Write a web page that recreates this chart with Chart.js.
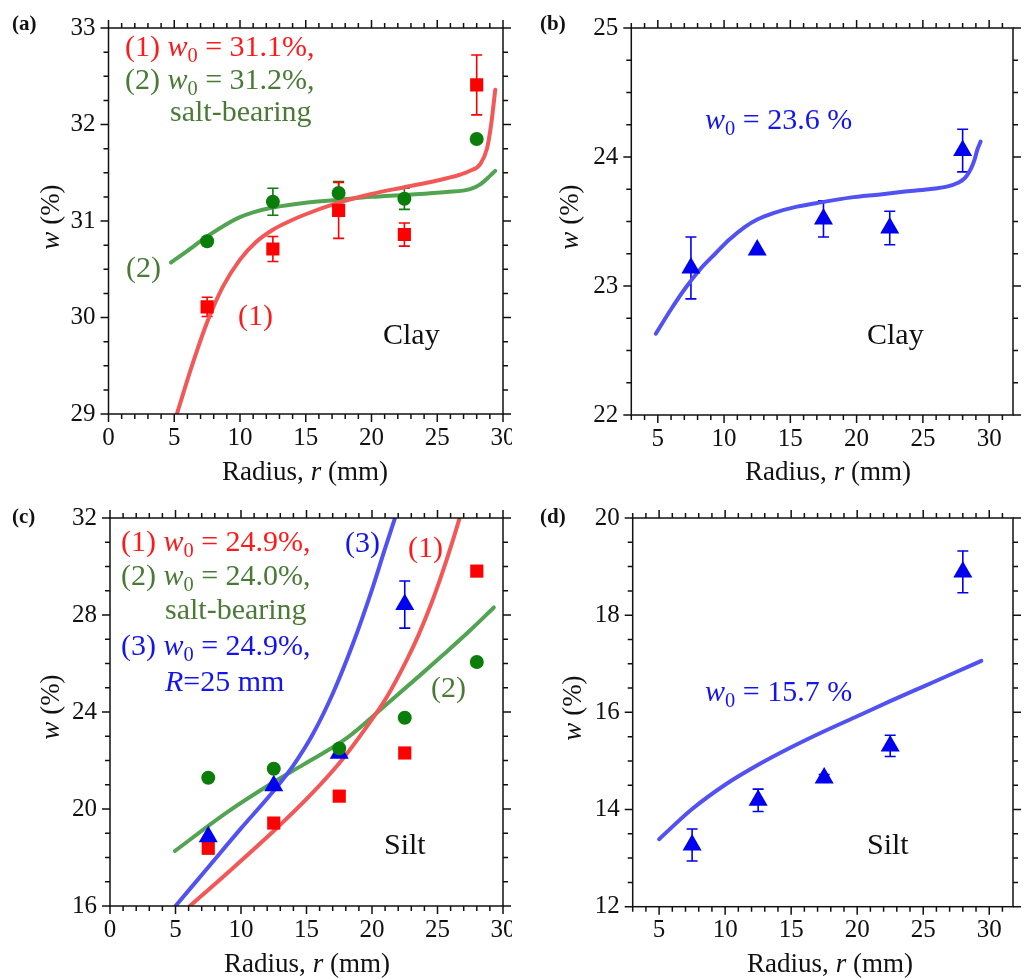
<!DOCTYPE html>
<html><head><meta charset="utf-8">
<script src="https://cdn.jsdelivr.net/npm/chart.js@4.4.1/dist/chart.umd.min.js"></script>
<style>
html,body{margin:0;padding:0;background:#fff;overflow:hidden;width:1024px;height:979px;}
#wrap{position:relative;width:1024px;height:979px;overflow:hidden;font-family:'Liberation Serif','Times New Roman',serif;}
canvas{position:absolute;}
.t{position:absolute;white-space:nowrap;line-height:1;color:#111;z-index:5;}
.ann{font-size:30px;}
.lab{font-size:21px;font-weight:bold;}
.xt{font-size:27px;transform:translateX(-50%);}
.yt{font-size:27px;transform:translate(-50%,-50%) rotate(-90deg);}
sub{font-size:0.68em;vertical-align:-0.3em;line-height:0;}
.r{color:#ff1a1a}.g{color:#4a7a36}.b{color:#1414ee}
</style></head>
<body><div id="wrap">
<canvas id="ca"></canvas><canvas id="cc"></canvas><canvas id="cb"></canvas><canvas id="cd"></canvas>

<div class="t lab" style="left:12px;top:13px">(a)</div>
<div class="t lab" style="left:540px;top:13px">(b)</div>
<div class="t lab" style="left:12px;top:506px">(c)</div>
<div class="t lab" style="left:540px;top:506px">(d)</div>

<div class="t xt" style="left:305px;top:458px">Radius, <i>r</i> (mm)</div>
<div class="t xt" style="left:828px;top:458px">Radius, <i>r</i> (mm)</div>
<div class="t xt" style="left:307px;top:950px">Radius, <i>r</i> (mm)</div>
<div class="t xt" style="left:830px;top:950px">Radius, <i>r</i> (mm)</div>
<div class="t yt" style="left:50px;top:217px"><i>w</i> (%)</div>
<div class="t yt" style="left:569px;top:217px"><i>w</i> (%)</div>
<div class="t yt" style="left:50px;top:707px"><i>w</i> (%)</div>
<div class="t yt" style="left:572px;top:708px"><i>w</i> (%)</div>

<div class="t ann r" style="left:125px;top:31px">(1) <i>w</i><sub>0</sub> = 31.1%,</div>
<div class="t ann g" style="left:125px;top:64px">(2) <i>w</i><sub>0</sub> = 31.2%,</div>
<div class="t ann g" style="left:170px;top:96px">salt-bearing</div>
<div class="t ann g" style="left:126px;top:252px">(2)</div>
<div class="t ann r" style="left:238px;top:300px">(1)</div>
<div class="t ann" style="left:383px;top:319px">Clay</div>

<div class="t ann b" style="left:705px;top:104px"><i>w</i><sub>0</sub> = 23.6 %</div>
<div class="t ann" style="left:867px;top:319px">Clay</div>

<div class="t ann r" style="left:121px;top:526px">(1) <i>w</i><sub>0</sub> = 24.9%,</div>
<div class="t ann g" style="left:121px;top:560px">(2) <i>w</i><sub>0</sub> = 24.0%,</div>
<div class="t ann g" style="left:165px;top:594px">salt-bearing</div>
<div class="t ann b" style="left:121px;top:630px">(3) <i>w</i><sub>0</sub> = 24.9%,</div>
<div class="t ann b" style="left:165px;top:666px"><i>R</i>=25 mm</div>
<div class="t ann b" style="left:345px;top:527px">(3)</div>
<div class="t ann r" style="left:408px;top:532px">(1)</div>
<div class="t ann g" style="left:431px;top:672px">(2)</div>
<div class="t ann" style="left:384px;top:829px">Silt</div>

<div class="t ann b" style="left:705px;top:676px"><i>w</i><sub>0</sub> = 15.7 %</div>
<div class="t ann" style="left:867px;top:829px">Silt</div>
</div>
<script>
// ---------- DATA ----------
const radiusPts = [7.5, 12.5, 17.5, 22.5, 28];
const radiusPtsC3 = [7.5, 12.5, 17.5, 22.5];

// (a) Clay
const aRedW = [30.11, 30.71, 31.11, 30.86, 32.41];
const aRedErr = [0.10, 0.13, 0.29, 0.12, 0.31];
const aGreenW = [30.79, 31.20, 31.29, 31.23, 31.85];
const aGreenErr = [0, 0.14, 0.12, 0.11, 0];
const aRedFitR = [5.2, 6.3, 7.5, 8.7, 10, 11.2, 12.5, 13.8, 15, 17.5, 20, 22.5, 25, 26.5, 27.5, 28.27, 28.78, 29.1, 29.41];
const aRedFitW = [29.0, 29.48, 29.95, 30.32, 30.60, 30.78, 30.91, 31.00, 31.07, 31.19, 31.28, 31.35, 31.42, 31.47, 31.52, 31.59, 31.75, 32.0, 32.36];
const aGreenFitR = [4.75, 6, 7.5, 9, 10, 11, 12.5, 15, 17.5, 20, 22.5, 25.7, 27.5, 28.27, 29.03, 29.41];
const aGreenFitW = [30.57, 30.69, 30.84, 30.97, 31.04, 31.09, 31.14, 31.19, 31.22, 31.25, 31.27, 31.30, 31.33, 31.38, 31.47, 31.52];

// (b) Clay
const bBlueW = [23.14, 23.28, 23.52, 23.45, 24.05];
const bBlueErr = [0.24, 0, 0.14, 0.13, 0.165];
const bFitR = [4.85, 6, 7.13, 8.2, 9.33, 10.4, 11.53, 12.5, 13.72, 15.5, 17.39, 19.5, 21.79, 23.5, 25.45, 26.8, 27.65, 28.2, 28.63, 28.9, 29.12, 29.36];
const bFitW = [22.63, 22.82, 22.99, 23.13, 23.25, 23.36, 23.455, 23.515, 23.565, 23.615, 23.65, 23.685, 23.71, 23.73, 23.75, 23.77, 23.80, 23.84, 23.91, 23.98, 24.06, 24.12];

// (c) Silt
const cRedW = [18.38, 19.42, 20.53, 22.31, 29.81];
const cGreenW = [21.29, 21.66, 22.50, 23.76, 26.06];
const cBlueW = [18.86, 20.96, 22.30, 28.43];
const cBlueErr = [0, 0, 0, 0.97];
const cRedFitR = [6.1, 8.9, 12.47, 15.27, 17.56, 19.59, 21.12, 22.65, 23.54, 24.5, 25.3, 26.1, 26.85];
const cRedFitW = [16.0, 17.33, 19.08, 20.56, 21.93, 23.39, 24.61, 26.14, 27.16, 28.43, 29.63, 30.95, 32.29];
const cBlueFitR = [5, 7.5, 10, 12.5, 14, 15.5, 17, 18.5, 20, 21, 22];
const cBlueFitW = [16.0, 17.6, 19.2, 20.75, 21.8, 23.1, 24.75, 26.75, 29.05, 30.75, 32.4];
const cGreenFitR = [4.96, 8.9, 12.47, 14.76, 18.07, 21.12, 23.66, 25.5, 27.5, 29.3];
const cGreenFitW = [18.27, 19.85, 21.10, 21.83, 22.92, 24.32, 25.51, 26.39, 27.37, 28.31];

// (d) Silt
const dBlueW = [13.27, 14.19, 14.65, 15.31, 18.89];
const dBlueErr = [0.33, 0.23, 0.07, 0.22, 0.43];
const dFitR = [5, 7.5, 10, 12.5, 15, 17.5, 20, 22.5, 25, 27.5, 29.4];
const dFitW = [13.39, 14.01, 14.51, 14.92, 15.28, 15.61, 15.92, 16.23, 16.53, 16.83, 17.06];

// tick labels
const xTicksA = [0, 5, 10, 15, 20, 25, 30];
const xTicksB = [5, 10, 15, 20, 25, 30];
const yTicksA = [29, 30, 31, 32, 33];
const yTicksB = [22, 23, 24, 25];
const yTicksC = [16, 20, 24, 28, 32];
const yTicksD = [12, 14, 16, 18, 20];

// ---------- STYLE ----------
const RED = '#ff0000', RED_LINE = '#f25858';
const GREEN = '#0a7d0a', GREEN_LINE = '#52a352';
const BLUE = '#0000f0', BLUE_LINE = '#5252f2';

Chart.defaults.font.family = "'Liberation Serif','Times New Roman',serif";
Chart.defaults.color = '#111';

const zip = (xs, ys) => xs.map((x, i) => ({x, y: ys[i]}));

const framePlugin = {
  id: 'frame',
  afterDraw(chart) {
    const o = chart.options.plugins.frame;
    const {ctx, chartArea: a, scales: {x, y}} = chart;
    ctx.save();
    ctx.strokeStyle = '#111';
    ctx.lineWidth = 1.5;
    ctx.strokeRect(a.left, a.top, a.right - a.left, a.bottom - a.top);
    ctx.beginPath();
    const eps = 1e-6;
    for (let v = Math.ceil(x.min / o.xMinor - eps) * o.xMinor; v <= x.max + eps; v += o.xMinor) {
      const major = Math.abs(v / o.xMajor - Math.round(v / o.xMajor)) < 1e-6;
      const len = major ? 8 : 5;
      const px = x.getPixelForValue(v);
      ctx.moveTo(px, a.bottom); ctx.lineTo(px, a.bottom + len);
      ctx.moveTo(px, a.top); ctx.lineTo(px, a.top - len);
    }
    for (let v = Math.ceil(y.min / o.yMinor - eps) * o.yMinor; v <= y.max + eps; v += o.yMinor) {
      const major = Math.abs(v / o.yMajor - Math.round(v / o.yMajor)) < 1e-6;
      const len = major ? 8 : 5;
      const py = y.getPixelForValue(v);
      ctx.moveTo(a.left, py); ctx.lineTo(a.left - len, py);
      ctx.moveTo(a.right, py); ctx.lineTo(a.right + len, py);
    }
    ctx.stroke();
    ctx.restore();
  }
};

const errPlugin = {
  id: 'errbars',
  beforeDatasetsDraw(chart) {
    const {ctx, scales: {y}} = chart;
    chart.data.datasets.forEach((ds, i) => {
      if (!ds.errors) return;
      const meta = chart.getDatasetMeta(i);
      ctx.save();
      ctx.strokeStyle = ds.errColor;
      ctx.lineWidth = 1.6;
      ctx.beginPath();
      meta.data.forEach((pt, j) => {
        const e = ds.errors[j];
        if (!e) return;
        const v = ds.data[j].y;
        const y1 = y.getPixelForValue(v + e), y2 = y.getPixelForValue(v - e);
        ctx.moveTo(pt.x, y1); ctx.lineTo(pt.x, y2);
        ctx.moveTo(pt.x - 5.5, y1); ctx.lineTo(pt.x + 5.5, y1);
        ctx.moveTo(pt.x - 5.5, y2); ctx.lineTo(pt.x + 5.5, y2);
      });
      ctx.stroke();
      ctx.restore();
    });
  }
};

function lineDs(xs, ys, color) {
  return {type: 'line', data: zip(xs, ys), borderColor: color, borderWidth: 4,
    pointRadius: 0, fill: false, cubicInterpolationMode: 'monotone', order: 10, borderCapStyle: 'round'};
}
function ptDs(xs, ys, color, style, radius, errors, order) {
  return {type: 'scatter', data: zip(xs, ys), backgroundColor: color, borderColor: color,
    borderWidth: 0, pointStyle: style, pointRadius: radius, showLine: false,
    errors: errors, errColor: color, order: order};
}

function makeChart(id, box, area, xr, yr, datasets) {
  const cv = document.getElementById(id);
  cv.width = box.w; cv.height = box.h;
  cv.style.left = box.x + 'px'; cv.style.top = box.y + 'px';
  cv.style.width = box.w + 'px'; cv.style.height = box.h + 'px';
  if (box.bg) cv.style.background = '#fff';
  const tickFont = {size: 25, family: "'Liberation Serif','Times New Roman',serif"};
  new Chart(cv, {
    data: {datasets},
    options: {
      responsive: false, animation: false, devicePixelRatio: 1,
      layout: {padding: {left: 0, bottom: 0, top: area.t - box.y, right: box.x + box.w - area.r}},
      plugins: {legend: {display: false}, tooltip: {enabled: false},
        frame: {xMinor: xr.minor, xMajor: xr.major, yMinor: yr.minor, yMajor: yr.major}},
      scales: {
        x: {type: 'linear', min: xr.min, max: xr.max,
          grid: {display: false, drawTicks: false}, border: {display: false},
          ticks: {font: tickFont, padding: 9, color: '#111', maxRotation: 0, autoSkip: false},
          afterBuildTicks: s => { s.ticks = xr.ticks.map(v => ({value: v})); },
          afterFit: s => { s.height = box.y + box.h - area.b; }},
        y: {type: 'linear', min: yr.min, max: yr.max,
          grid: {display: false, drawTicks: false}, border: {display: false},
          ticks: {font: tickFont, padding: 13, color: '#111', autoSkip: false},
          afterBuildTicks: s => { s.ticks = yr.ticks.map(v => ({value: v})); },
          afterFit: s => { s.width = area.l - box.x; }}
      }
    },
    plugins: [framePlugin, errPlugin]
  });
}

makeChart('ca', {x: 0, y: 0, w: 545, h: 490}, {l: 108.5, t: 20.7, r: 503, b: 414},
  {min: 0, max: 30, minor: 1, major: 5, ticks: xTicksA},
  {min: 29, max: 33, minor: 0.25, major: 1, ticks: yTicksA},
  [ptDs(radiusPts, aGreenW, GREEN, 'circle', 7, aGreenErr, 0),
   ptDs(radiusPts, aRedW, RED, 'rect', 9.3, aRedErr, 1),
   lineDs(aRedFitR, aRedFitW, RED_LINE),
   lineDs(aGreenFitR, aGreenFitW, GREEN_LINE)]);

makeChart('cb', {x: 512, y: 0, w: 512, h: 490, bg: true}, {l: 631.3, t: 20.7, r: 1023.5, b: 415},
  {min: 3, max: 31.8, minor: 1, major: 5, ticks: xTicksB},
  {min: 22, max: 25, minor: 0.25, major: 1, ticks: yTicksB},
  [ptDs(radiusPts, bBlueW, BLUE, 'triangle', 11, bBlueErr, 0),
   lineDs(bFitR, bFitW, BLUE_LINE)]);

makeChart('cc', {x: 0, y: 490, w: 545, h: 489}, {l: 110, t: 512, r: 503, b: 906},
  {min: 0, max: 30, minor: 1, major: 5, ticks: xTicksA},
  {min: 16, max: 32, minor: 1, major: 4, ticks: yTicksC},
  [ptDs(radiusPts, cGreenW, GREEN, 'circle', 7, null, 0),
   ptDs(radiusPtsC3, cBlueW, BLUE, 'triangle', 11, cBlueErr, 1),
   ptDs(radiusPts, cRedW, RED, 'rect', 9.3, null, 2),
   lineDs(cRedFitR, cRedFitW, RED_LINE),
   lineDs(cBlueFitR, cBlueFitW, BLUE_LINE),
   lineDs(cGreenFitR, cGreenFitW, GREEN_LINE)]);

makeChart('cd', {x: 512, y: 490, w: 512, h: 489, bg: true}, {l: 632.7, t: 512.3, r: 1023.5, b: 906.7},
  {min: 3, max: 31.8, minor: 1, major: 5, ticks: xTicksB},
  {min: 12, max: 20, minor: 0.5, major: 2, ticks: yTicksD},
  [ptDs(radiusPts, dBlueW, BLUE, 'triangle', 11, dBlueErr, 0),
   lineDs(dFitR, dFitW, BLUE_LINE)]);
</script>
</body></html>
